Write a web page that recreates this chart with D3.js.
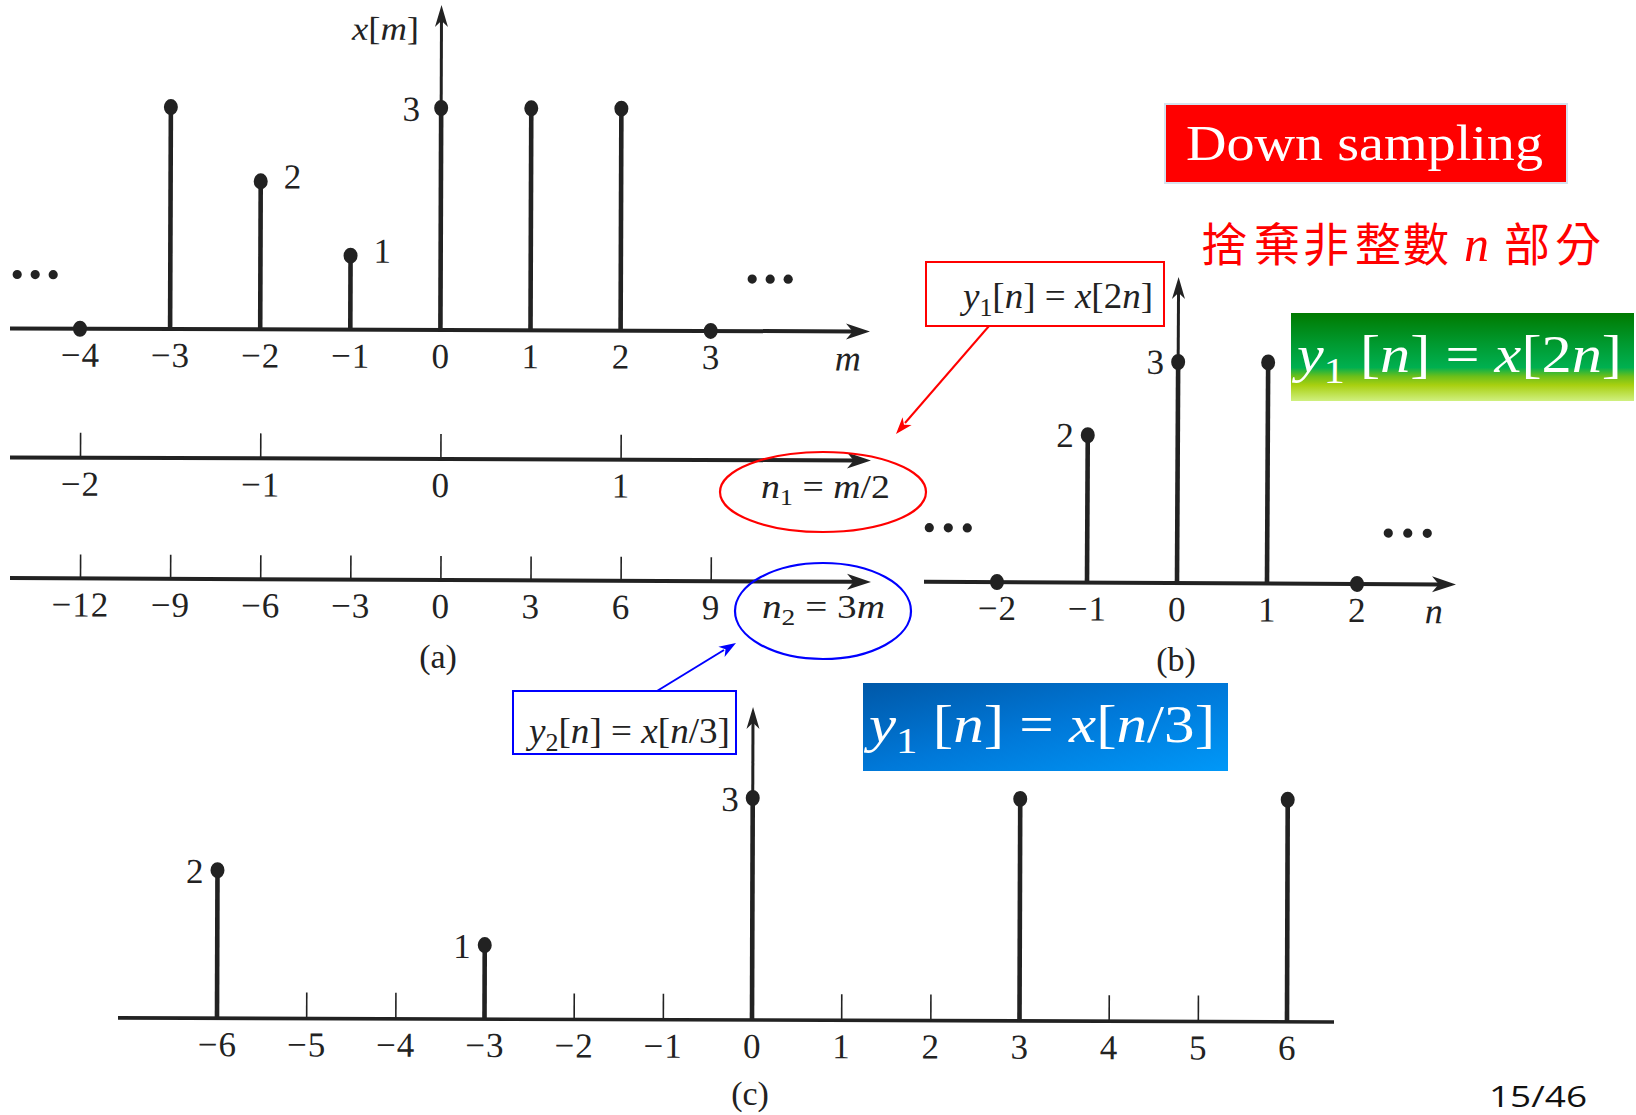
<!DOCTYPE html>
<html><head><meta charset="utf-8">
<script src="https://cdn.jsdelivr.net/npm/d3@7"></script>
<style>body{margin:0;background:#fff;overflow:hidden} svg{display:block}</style>
</head><body>
<svg id="chart" width="1636" height="1115"></svg>
<script>
// ---------- data ----------
const mA = [-4, -3, -2, -1, 0, 1, 2, 3];
const xA = [0, 3, 2, 1, 3, 3, 3, 0];
const n1TickM = [-4, -2, 0, 2];
const n1Labels = ["−2", "−1", "0", "1"];
const n2TickM = [-4, -3, -2, -1, 0, 1, 2, 3];
const n2Labels = ["−12", "−9", "−6", "−3", "0", "3", "6", "9"];
const nB = [-2, -1, 0, 1, 2];
const yB = [0, 2, 3, 3, 0];
const nC = [-6, -5, -4, -3, -2, -1, 0, 1, 2, 3, 4, 5, 6];
const yC = [2, 0, 0, 1, 0, 0, 3, 0, 0, 3, 0, 0, 3];
const labelA = [4, 2, 3];     // indices of xA values that carry a value label
const labelB = [2, 1];
const labelC = [6, 0, 3];
const titleText = "Down sampling";
const noteChars = ["捨", "棄", "非", "整", "數", "n", "部", "分"];
const pageText = "15/46";

const INK = "#222";
const SERIF = "'Liberation Serif','Times New Roman',serif";
const svg = d3.select("#chart");
const fmt = d => (d < 0 ? "−" + (-d) : String(d));

function arrowHead(g, x, y, angle, len, hw, color) {
  g.append("path")
    .attr("d", `M0,0 L${-len},${-hw} L${-len * 0.72},0 L${-len},${hw} Z`)
    .attr("transform", `translate(${x},${y}) rotate(${angle})`)
    .attr("fill", color);
}
function mathText(g, x, y, parts, size, color, len, anchor) {
  const t = g.append("text").attr("x", x).attr("y", y)
    .attr("font-family", SERIF).attr("font-size", size).attr("fill", color);
  if (anchor) t.attr("text-anchor", anchor);
  let shifted = false;
  parts.forEach(p => {
    const ts = t.append("tspan").text(p.t);
    if (p.i) ts.attr("font-style", "italic");
    if (p.sub) { ts.attr("font-size", size * 0.7).attr("dy", size * 0.22); shifted = true; }
    else if (shifted) { ts.attr("dy", -size * 0.22); shifted = false; }
  });
  if (len) t.attr("textLength", len).attr("lengthAdjust", "spacingAndGlyphs");
  return t;
}
function styleAxis(g, dyText) {
  g.select(".domain").remove();
  g.attr("font-family", SERIF).attr("font-size", 35);
  g.selectAll(".tick text").attr("y", dyText).attr("dy", 0).attr("fill", INK).attr("letter-spacing", 1);
  g.selectAll(".tick line").attr("stroke", INK).attr("stroke-width", 1.6);
}
function dots3(g, x0, y, step) {
  [0, 1, 2].forEach(k => g.append("circle").attr("cx", x0 + k * step).attr("cy", y).attr("r", 4.6).attr("fill", INK));
}

// ---------- panel (a) ----------
const sxA = d3.scaleLinear().domain([-4, 3]).range([80, 80 + 7 * 90.1]);
const syA = d3.scaleLinear().domain([0, 3]).range([330, 108]);
const gA = svg.append("g").attr("transform", "rotate(0.2,440,330)");
gA.append("line").attr("x1", 10).attr("x2", 855).attr("y1", syA(0)).attr("y2", syA(0))
  .attr("stroke", INK).attr("stroke-width", 4);
arrowHead(gA, 870, syA(0), 0, 24, 8, INK);
gA.append("line").attr("x1", sxA(0)).attr("x2", sxA(0)).attr("y1", syA(0)).attr("y2", 18)
  .attr("stroke", INK).attr("stroke-width", 3);
arrowHead(gA, sxA(0), 5, -90, 22, 6.5, INK);
gA.selectAll(".stem").data(mA.filter((d, i) => xA[i] !== 0)).enter().append("line")
  .attr("x1", d => sxA(d)).attr("x2", d => sxA(d))
  .attr("y1", syA(0)).attr("y2", d => syA(xA[mA.indexOf(d)]))
  .attr("stroke", INK).attr("stroke-width", 4.6);
gA.selectAll(".dot").data(mA).enter().append("ellipse")
  .attr("cx", d => sxA(d)).attr("cy", (d, i) => syA(xA[i])).attr("rx", 7).attr("ry", 8).attr("fill", INK);
gA.append("g").attr("transform", `translate(0,${syA(0)})`)
  .call(d3.axisBottom(sxA).tickValues(mA).tickFormat(fmt).tickSize(0))
  .call(g => styleAxis(g, 38));
labelA.forEach(i => {
  const right = mA[i] < 0;
  gA.append("text").attr("x", sxA(mA[i]) + (right ? 23 : -21)).attr("y", syA(xA[i]) + (right ? 7 : 13))
    .attr("text-anchor", right ? "start" : "end").attr("font-family", SERIF).attr("font-size", 35)
    .attr("fill", INK).text(xA[i]);
});
mathText(gA, 351, 40, [{t: "x", i: 1}, {t: "["}, {t: "m", i: 1}, {t: "]"}], 33, INK, 67);
mathText(gA, 835, 369, [{t: "m", i: 1}], 36, INK);
dots3(gA, 17, 276, 18);
dots3(gA, 752, 278, 18);

// ---------- n1 axis ----------
const gN1 = svg.append("g").attr("transform", "rotate(0.2,440,459)");
gN1.append("line").attr("x1", 10).attr("x2", 856).attr("y1", 459).attr("y2", 459).attr("stroke", INK).attr("stroke-width", 4);
arrowHead(gN1, 871, 459, 0, 24, 8, INK);
gN1.append("g").attr("transform", "translate(0,459)")
  .call(d3.axisBottom(sxA).tickValues(n1TickM).tickFormat((d, i) => n1Labels[i]).tickSizeInner(-25).tickSizeOuter(0))
  .call(g => styleAxis(g, 38));

// ---------- n2 axis ----------
const gN2 = svg.append("g").attr("transform", "rotate(0.25,440,580)");
gN2.append("line").attr("x1", 10).attr("x2", 856).attr("y1", 580).attr("y2", 580).attr("stroke", INK).attr("stroke-width", 4);
arrowHead(gN2, 871, 580, 0, 24, 8, INK);
gN2.append("g").attr("transform", "translate(0,580)")
  .call(d3.axisBottom(sxA).tickValues(n2TickM).tickFormat((d, i) => n2Labels[i]).tickSizeInner(-24).tickSizeOuter(0))
  .call(g => styleAxis(g, 38));
svg.append("text").attr("x", 438).attr("y", 668).attr("text-anchor", "middle")
  .attr("font-family", SERIF).attr("font-size", 34).attr("fill", INK).text("(a)");

// ellipses & annotation
svg.append("ellipse").attr("cx", 823).attr("cy", 492).attr("rx", 103).attr("ry", 40)
  .attr("fill", "none").attr("stroke", "#ff0000").attr("stroke-width", 2.2);
mathText(svg, 761, 498, [{t: "n", i: 1}, {t: "1", sub: 1}, {t: " = "}, {t: "m", i: 1}, {t: "/2"}], 34, INK, 129);
svg.append("ellipse").attr("cx", 823).attr("cy", 611).attr("rx", 88).attr("ry", 48)
  .attr("fill", "none").attr("stroke", "#0000ff").attr("stroke-width", 2.2);
mathText(svg, 762, 618, [{t: "n", i: 1}, {t: "2", sub: 1}, {t: " = 3"}, {t: "m", i: 1}], 34, INK, 123);

// red box + arrow
svg.append("rect").attr("x", 926).attr("y", 262).attr("width", 238).attr("height", 64)
  .attr("fill", "none").attr("stroke", "#ff0000").attr("stroke-width", 2);
mathText(svg, 963, 308, [{t: "y", i: 1}, {t: "1", sub: 1}, {t: "["}, {t: "n", i: 1}, {t: "] = "}, {t: "x", i: 1}, {t: "[2"}, {t: "n", i: 1}, {t: "]"}], 35, INK, 190);
svg.append("line").attr("x1", 989).attr("y1", 326).attr("x2", 905).attr("y2", 423).attr("stroke", "#ff0000").attr("stroke-width", 2);
arrowHead(svg, 896, 434, Math.atan2(434 - 326, 896 - 989) * 180 / Math.PI, 17, 6, "#ff0000");

// blue small box + arrow
svg.append("rect").attr("x", 513).attr("y", 691).attr("width", 223).attr("height", 63)
  .attr("fill", "none").attr("stroke", "#0000ff").attr("stroke-width", 2);
mathText(svg, 529, 743, [{t: "y", i: 1}, {t: "2", sub: 1}, {t: "["}, {t: "n", i: 1}, {t: "] = "}, {t: "x", i: 1}, {t: "["}, {t: "n", i: 1}, {t: "/3]"}], 35, INK, 201);
svg.append("line").attr("x1", 657).attr("y1", 691).attr("x2", 724).attr("y2", 650).attr("stroke", "#0000ff").attr("stroke-width", 2);
arrowHead(svg, 736, 643, Math.atan2(643 - 691, 736 - 657) * 180 / Math.PI, 17, 6, "#0000ff");

// ---------- panel (b) ----------
const sxB = d3.scaleLinear().domain([-2, 2]).range([997, 1357]);
const syB = d3.scaleLinear().domain([0, 3]).range([583, 362]);
const gB = svg.append("g").attr("transform", "rotate(0.3,1177,583)");
gB.append("line").attr("x1", 924).attr("x2", 1441).attr("y1", syB(0)).attr("y2", syB(0)).attr("stroke", INK).attr("stroke-width", 4);
arrowHead(gB, 1456, syB(0), 0, 24, 8, INK);
gB.append("line").attr("x1", sxB(0)).attr("x2", sxB(0)).attr("y1", syB(0)).attr("y2", 290).attr("stroke", INK).attr("stroke-width", 3);
arrowHead(gB, sxB(0), 277, -90, 22, 6.5, INK);
gB.selectAll(".stem").data(nB.filter((d, i) => yB[i] !== 0)).enter().append("line")
  .attr("x1", d => sxB(d)).attr("x2", d => sxB(d))
  .attr("y1", syB(0)).attr("y2", d => syB(yB[nB.indexOf(d)]))
  .attr("stroke", INK).attr("stroke-width", 4.6);
gB.selectAll(".dot").data(nB).enter().append("ellipse")
  .attr("cx", d => sxB(d)).attr("cy", (d, i) => syB(yB[i])).attr("rx", 7).attr("ry", 8).attr("fill", INK);
gB.append("g").attr("transform", `translate(0,${syB(0)})`)
  .call(d3.axisBottom(sxB).tickValues(nB).tickFormat(fmt).tickSize(0))
  .call(g => styleAxis(g, 38));
labelB.forEach(i => {
  gB.append("text").attr("x", sxB(nB[i]) - 14).attr("y", syB(yB[i]) + 12)
    .attr("text-anchor", "end").attr("font-family", SERIF).attr("font-size", 35).attr("fill", INK).text(yB[i]);
});
mathText(gB, 1425, 622, [{t: "n", i: 1}], 36, INK);
dots3(gB, 929, 529, 19);
dots3(gB, 1388, 532, 19.5);
svg.append("text").attr("x", 1176).attr("y", 671).attr("text-anchor", "middle")
  .attr("font-family", SERIF).attr("font-size", 34).attr("fill", INK).text("(b)");

// ---------- panel (c) ----------
const sxC = d3.scaleLinear().domain([-6, 6]).range([217, 1287]);
const syC = d3.scaleLinear().domain([0, 3]).range([1020, 798]);
const gC = svg.append("g").attr("transform", "rotate(0.19,752,1020)");
gC.append("line").attr("x1", 118).attr("x2", 1334).attr("y1", syC(0)).attr("y2", syC(0)).attr("stroke", INK).attr("stroke-width", 3.6);
gC.append("line").attr("x1", sxC(0)).attr("x2", sxC(0)).attr("y1", syC(0)).attr("y2", 720).attr("stroke", INK).attr("stroke-width", 3);
arrowHead(gC, sxC(0), 707, -90, 22, 6.5, INK);
gC.append("g").attr("transform", `translate(0,${syC(0)})`)
  .call(d3.axisBottom(sxC).tickValues(nC).tickFormat(fmt).tickSizeInner(-26).tickSizeOuter(0))
  .call(g => styleAxis(g, 38));
gC.selectAll(".stem").data(nC.filter((d, i) => yC[i] !== 0)).enter().append("line")
  .attr("x1", d => sxC(d)).attr("x2", d => sxC(d))
  .attr("y1", syC(0)).attr("y2", d => syC(yC[nC.indexOf(d)]))
  .attr("stroke", INK).attr("stroke-width", 4.6);
gC.selectAll(".dot").data(nC.filter((d, i) => yC[i] !== 0)).enter().append("ellipse")
  .attr("cx", d => sxC(d)).attr("cy", d => syC(yC[nC.indexOf(d)])).attr("rx", 7).attr("ry", 8).attr("fill", INK);
labelC.forEach(i => {
  gC.append("text").attr("x", sxC(nC[i]) - 14).attr("y", syC(yC[i]) + 13)
    .attr("text-anchor", "end").attr("font-family", SERIF).attr("font-size", 35).attr("fill", INK).text(yC[i]);
});
svg.append("text").attr("x", 750).attr("y", 1105).attr("text-anchor", "middle")
  .attr("font-family", SERIF).attr("font-size", 34).attr("fill", INK).text("(c)");

// ---------- highlight boxes ----------
const defs = svg.append("defs");
const gg = defs.append("linearGradient").attr("id", "gGreen").attr("x1", 0).attr("y1", 0).attr("x2", 0).attr("y2", 1);
[[0, "#007a00"], [0.35, "#009a30"], [0.62, "#00b050"], [0.72, "#6cbf1a"], [0.82, "#a8d010"], [1, "#d0f080"]]
  .forEach(([o, c]) => gg.append("stop").attr("offset", o).attr("stop-color", c));
const gb = defs.append("linearGradient").attr("id", "gBlue").attr("x1", 0).attr("y1", 0).attr("x2", 1).attr("y2", 1);
[[0, "#0058a8"], [0.5, "#0078d8"], [1, "#0098f8"]]
  .forEach(([o, c]) => gb.append("stop").attr("offset", o).attr("stop-color", c));

svg.append("rect").attr("x", 1165).attr("y", 104).attr("width", 402).attr("height", 79)
  .attr("fill", "#ff0000").attr("stroke", "#d6e2ee").attr("stroke-width", 2);
svg.append("text").attr("x", 1186).attr("y", 160).attr("font-family", SERIF).attr("font-size", 51)
  .attr("fill", "#fff").attr("textLength", 357).attr("lengthAdjust", "spacingAndGlyphs").text(titleText);

const noteX = [1201, 1254, 1303, 1355, 1403, 1464, 1504, 1555];
noteChars.forEach((ch, i) => {
  const isLatin = ch === "n";
  svg.append("text").attr("x", noteX[i]).attr("y", 261)
    .attr("font-family", isLatin ? SERIF : "'Noto Sans CJK TC','Noto Sans CJK SC',sans-serif")
    .attr("font-style", isLatin ? "italic" : "normal")
    .attr("font-size", isLatin ? 50 : 46).attr("fill", "#ff0000").text(ch);
});

svg.append("rect").attr("x", 1291).attr("y", 313).attr("width", 343).attr("height", 88).attr("fill", "url(#gGreen)");
mathText(svg, 1297, 372, [{t: "y", i: 1}, {t: "1", sub: 1}, {t: " ["}, {t: "n", i: 1}, {t: "] = "}, {t: "x", i: 1}, {t: "[2"}, {t: "n", i: 1}, {t: "]"}], 52, "#fff", 325);

svg.append("rect").attr("x", 863).attr("y", 683).attr("width", 365).attr("height", 88).attr("fill", "url(#gBlue)");
mathText(svg, 869, 742, [{t: "y", i: 1}, {t: "1", sub: 1}, {t: " ["}, {t: "n", i: 1}, {t: "] = "}, {t: "x", i: 1}, {t: "["}, {t: "n", i: 1}, {t: "/3]"}], 52, "#fff", 346);

svg.append("text").attr("x", 1489).attr("y", 1107).attr("font-family", "'Open Sans','Noto Sans',sans-serif")
  .attr("font-size", 30).attr("fill", "#111").attr("textLength", 98).attr("lengthAdjust", "spacingAndGlyphs").text(pageText);
</script>
</body></html>
